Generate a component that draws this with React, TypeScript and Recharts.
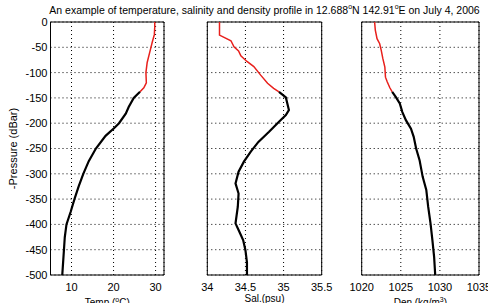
import React from 'react';
import { LineChart, Line, XAxis, YAxis, CartesianGrid, ReferenceArea } from 'recharts';

// depth where the mixed layer (red) ends and the thermocline part (black) begins
const SPLIT = -138;

const pressureTicks = [0, -50, -100, -150, -200, -250, -300, -350, -400, -450, -500];

const tempDepth = [0, -10, -25, -40, -60, -80, -100, -120, -130, -138, -150, -168, -181, -200, -210, -225, -250, -275, -300, -325, -350, -375, -400, -425, -450, -475, -500];
const tempValues = [29.8, 29.8, 29.7, 29.2, 28.6, 28.0, 27.7, 27.8, 27.2, 26.3, 24.8, 23.6, 22.9, 21.3, 20.1, 18.1, 15.8, 14.1, 12.8, 11.7, 10.7, 9.8, 8.8, 8.4, 8.2, 8.0, 7.8];
const tempTicks = [10, 20, 30];

const salDepth = [0, -26, -29, -37, -49, -57, -67, -78, -88, -105, -121, -131, -138, -149, -174, -184, -197, -217, -237, -256, -276, -296, -319, -339, -365, -398, -411, -431, -451, -475, -500];
const salValues = [34.16, 34.16, 34.2, 34.31, 34.35, 34.41, 34.44, 34.52, 34.61, 34.7, 34.79, 34.87, 34.94, 35.03, 35.07, 35.03, 34.94, 34.81, 34.67, 34.57, 34.48, 34.41, 34.37, 34.41, 34.4, 34.37, 34.41, 34.47, 34.5, 34.52, 34.52];
const salTicks = [34, 34.5, 35, 35.5];

const denDepth = [0, -16, -33, -43, -56, -72, -89, -109, -118, -130, -138, -148, -161, -178, -194, -211, -227, -250, -273, -306, -332, -365, -398, -431, -464, -500];
const denValues = [1021.65, 1021.74, 1021.96, 1022.3, 1022.5, 1022.7, 1022.96, 1023.04, 1023.26, 1023.6, 1023.9, 1024.35, 1024.87, 1025.2, 1025.65, 1026.3, 1026.65, 1026.96, 1027.4, 1027.8, 1028.26, 1028.5, 1028.8, 1029.04, 1029.26, 1029.4];
const denTicks = [1020, 1025, 1030, 1035];

const FONT = '"Liberation Sans", Arial, sans-serif';
const tickStyle = { fontSize: 11, fill: '#000', fontFamily: FONT };

const buildProfile = (depth: number[], values: number[]) =>
  depth.map((p, i) => ({
    p,
    red: p >= SPLIT ? values[i] : null,
    black: p <= SPLIT ? values[i] : null,
  }));

// x-axis title, with an optional superscript part in the middle
const XTitle = ({ viewBox, pre, sup, post, dy }: any) => {
  const cx = viewBox.x + viewBox.width / 2;
  return (
    <text x={cx} y={viewBox.y + dy} textAnchor="middle" fontSize={10} fontFamily={FONT} fill="#000">
      <tspan>{pre}</tspan>
      {sup ? <tspan dy={-4} fontSize={7}>{sup}</tspan> : null}
      {sup ? <tspan dy={4}>{post}</tspan> : <tspan>{post}</tspan>}
    </text>
  );
};

const YTitle = ({ viewBox }: any) => {
  const x = 13;
  const y = viewBox.y + viewBox.height / 2;
  return (
    <text x={x} y={y} transform={`rotate(-90 ${x} ${y})`} textAnchor="middle" dominantBaseline="central" fontSize={11} fontFamily={FONT} fill="#000">
      -Pressure (dBar)
    </text>
  );
};

interface PanelProps {
  left: number;
  width: number;
  margin: { top: number; right: number; bottom: number; left: number };
  data: any[];
  domain: [number, number];
  ticks: number[];
  title: { pre: string; sup?: string; post: string; dy: number };
  showY?: boolean;
}

const Panel: React.FC<PanelProps> = ({ left, width, margin, data, domain, ticks, title, showY }) => (
  <div style={{ position: 'absolute', left, top: 0 }}>
    <LineChart layout="vertical" width={width} height={303} data={data} margin={margin}>
      <CartesianGrid stroke="#000" strokeDasharray="1 3" />
      <XAxis
        type="number"
        domain={domain}
        ticks={ticks}
        interval={0}
        allowDataOverflow
        height={28}
        tickLine={false}
        axisLine={false}
        tickSize={0}
        tickMargin={8}
        tick={tickStyle}
        label={{ content: (props: any) => <XTitle {...props} {...title} /> }}
      />
      <YAxis
        type="number"
        dataKey="p"
        domain={[-500, 0]}
        ticks={pressureTicks}
        interval={0}
        reversed
        hide={!showY}
        width={50.5}
        tickLine={false}
        axisLine={false}
        tickSize={0}
        tickMargin={3}
        tick={tickStyle}
        label={showY ? { content: (props: any) => <YTitle {...props} /> } : undefined}
      />
      <ReferenceArea x1={domain[0]} x2={domain[1]} y1={-500} y2={0} fill="none" stroke="#000" strokeOpacity={1} />
      <Line dataKey="red" stroke="#e8201c" strokeWidth={1.5} dot={false} isAnimationActive={false} />
      <Line dataKey="black" stroke="#000" strokeWidth={2.2} dot={false} isAnimationActive={false} />
    </LineChart>
  </div>
);

export default function App() {
  const tempData = buildProfile(tempDepth, tempValues);
  const salData = buildProfile(salDepth, salValues);
  const denData = buildProfile(denDepth, denValues);

  return (
    <div style={{ position: 'absolute', left: 0, top: 0, width: 488, height: 303, background: '#fff', overflow: 'hidden' }}>
      <Panel
        left={0}
        width={170}
        margin={{ top: 22, right: 6, bottom: 0, left: 0 }}
        data={tempData}
        domain={[5, 32]}
        ticks={tempTicks}
        title={{ pre: 'Temp (', sup: 'o', post: 'C)', dy: 31 }}
        showY
      />
      <Panel
        left={180}
        width={162}
        margin={{ top: 22, right: 20.3, bottom: 0, left: 27.3 }}
        data={salData}
        domain={[34, 35.5]}
        ticks={salTicks}
        title={{ pre: '', post: 'Sal.(psu)', dy: 26.5 }}
      />
      <Panel
        left={340}
        width={148}
        margin={{ top: 22, right: 9, bottom: 0, left: 21.7 }}
        data={denData}
        domain={[1020, 1035]}
        ticks={denTicks}
        title={{ pre: 'Den (kg/m', sup: '3', post: ')', dy: 31 }}
      />
      <div
        style={{
          position: 'absolute',
          left: 264.5,
          top: 3,
          transform: 'translateX(-50%)',
          whiteSpace: 'nowrap',
          fontFamily: FONT,
          fontSize: 10.5,
          lineHeight: '14px',
          color: '#000',
        }}
      >
        An example of temperature, salinity and density profile in 12.688
        <sup style={{ fontSize: 7, verticalAlign: 'top', lineHeight: '8px' }}>o</sup>N 142.91
        <sup style={{ fontSize: 7, verticalAlign: 'top', lineHeight: '8px' }}>o</sup>E on July 4, 2006
      </div>
    </div>
  );
}
